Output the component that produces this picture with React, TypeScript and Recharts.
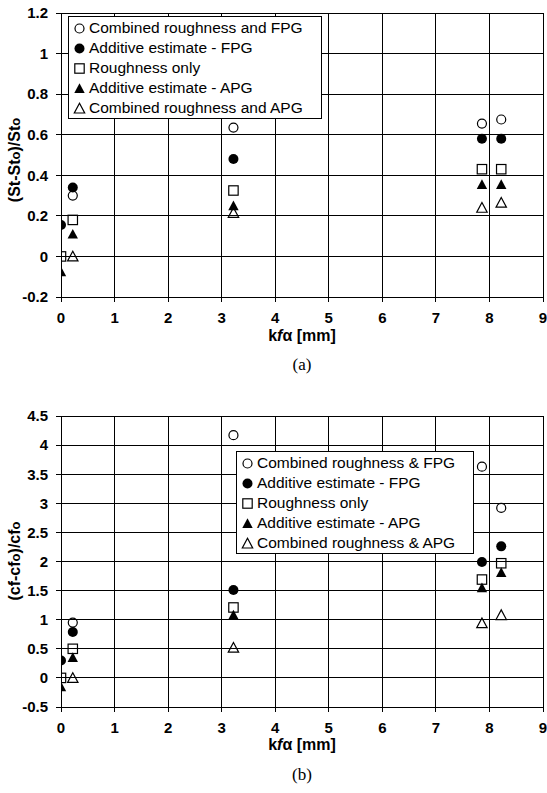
import React from 'react'
import { ScatterChart, Scatter, XAxis, YAxis, CartesianGrid, Legend } from 'recharts'

// kfα positions of the measured surfaces [mm]
const kfaPositions = [0, 0.22, 3.22, 7.86, 8.22]
const xTicks = [0, 1, 2, 3, 4, 5, 6, 7, 8, 9]

// (a) Stanton number augmentation
const stCombinedFpg = [null, 0.3, 0.635, 0.655, 0.675]
const stAdditiveFpg = [0.155, 0.34, 0.48, 0.58, 0.58]
const stRoughnessOnly = [0, 0.18, 0.325, 0.43, 0.43]
const stAdditiveApg = [-0.075, 0.11, 0.25, 0.355, 0.355]
const stCombinedApg = [null, 0, 0.215, 0.24, 0.265]
const stTicks = [-0.2, 0, 0.2, 0.4, 0.6, 0.8, 1, 1.2]

// (b) skin friction augmentation
const cfCombinedFpg = [null, 0.95, 4.17, 3.63, 2.92]
const cfAdditiveFpg = [0.3, 0.79, 1.51, 1.99, 2.26]
const cfRoughnessOnly = [0, 0.5, 1.21, 1.69, 1.97]
const cfAdditiveApg = [-0.15, 0.35, 1.08, 1.55, 1.81]
const cfCombinedApg = [null, 0, 0.52, 0.94, 1.08]
const cfTicks = [-0.5, 0, 0.5, 1, 1.5, 2, 2.5, 3, 3.5, 4, 4.5]

const namesA = [
  'Combined roughness and FPG',
  'Additive estimate - FPG',
  'Roughness only',
  'Additive estimate - APG',
  'Combined roughness and APG'
]
const namesB = [
  'Combined roughness & FPG',
  'Additive estimate - FPG',
  'Roughness only',
  'Additive estimate - APG',
  'Combined roughness & APG'
]
const markerKinds = ['openCircle', 'filledCircle', 'openSquare', 'filledTriangle', 'openTriangle']

const FONT = '"Liberation Sans", Arial, sans-serif'

function Marker({ kind, cx, cy }: { kind: string; cx: number; cy: number }) {
  const sw = 1.2
  if (kind === 'openCircle') return <circle cx={cx} cy={cy} r={4.5} fill="none" stroke="#000" strokeWidth={sw} />
  if (kind === 'filledCircle') return <circle cx={cx} cy={cy} r={5} fill="#000" />
  if (kind === 'openSquare') return <rect x={cx - 4.7} y={cy - 4.7} width={9.4} height={9.4} fill="none" stroke="#000" strokeWidth={sw} />
  const pts = `${cx - 5.2},${cy + 4.5} ${cx + 5.2},${cy + 4.5} ${cx},${cy - 5.2}`
  if (kind === 'filledTriangle') return <polygon points={pts} fill="#000" />
  return <polygon points={pts} fill="none" stroke="#000" strokeWidth={sw} />
}

function toPoints(values: (number | null)[]) {
  return kfaPositions
    .map((x, i) => ({ x, y: values[i] }))
    .filter((p) => p.y !== null)
}

function LegendBox({ names, width }: { names: string[]; width: number }) {
  return (
    <div
      style={{
        width,
        boxSizing: 'border-box',
        border: '1px solid #000',
        background: '#fff',
        padding: '1px 4px 0 4px',
        fontFamily: FONT,
        fontSize: 15.5,
        lineHeight: '20px',
        color: '#000'
      }}
    >
      {names.map((n, i) => (
        <div key={n} style={{ display: 'flex', alignItems: 'center', whiteSpace: 'nowrap' }}>
          <svg width={13} height={13} style={{ marginRight: 3 }}>
            <Marker kind={markerKinds[i]} cx={6.5} cy={6.5} />
          </svg>
          {n}
        </div>
      ))}
    </div>
  )
}

interface PanelProps {
  series: (number | null)[][]
  names: string[]
  yTicks: number[]
  top: number
  height: number
  marginTop: number
  legendPos: { left: number; top: number; width: number }
}

function Panel({ series, names, yTicks, top, height, marginTop, legendPos }: PanelProps) {
  const tickStyle = { fontSize: 15, fontWeight: 'bold' as const, fill: '#000', fontFamily: FONT }
  return (
    <div style={{ position: 'absolute', left: 0, top }}>
      <ScatterChart width={547} height={height} margin={{ top: marginTop, right: 4, bottom: 0, left: 0 }}>
        <CartesianGrid stroke="#000" strokeWidth={1} horizontalValues={yTicks} verticalValues={xTicks} />
        <XAxis
          type="number"
          dataKey="x"
          domain={[0, 9]}
          ticks={xTicks}
          height={30}
          tick={tickStyle}
          tickSize={5}
          tickMargin={10}
          axisLine={{ stroke: '#000' }}
          tickLine={{ stroke: '#000' }}
          allowDataOverflow
        />
        <YAxis
          type="number"
          dataKey="y"
          domain={[yTicks[0], yTicks[yTicks.length - 1]]}
          ticks={yTicks}
          width={61}
          tick={tickStyle}
          tickSize={5}
          tickMargin={8}
          axisLine={{ stroke: '#000' }}
          tickLine={{ stroke: '#000' }}
          allowDataOverflow
        />
        <Legend
          layout="vertical"
          align="center"
          verticalAlign="middle"
          wrapperStyle={{ left: legendPos.left, top: legendPos.top, width: 'auto' }}
          content={() => <LegendBox names={names} width={legendPos.width} />}
        />
        {series.map((vals, i) => (
          <Scatter
            key={names[i]}
            name={names[i]}
            data={toPoints(vals)}
            isAnimationActive={false}
            shape={(p: any) => <Marker kind={markerKinds[i]} cx={p.cx} cy={p.cy} />}
          />
        ))}
      </ScatterChart>
    </div>
  )
}

const titleStyle: React.CSSProperties = {
  position: 'absolute',
  fontFamily: FONT,
  fontWeight: 'bold',
  fontSize: 16,
  whiteSpace: 'nowrap',
  color: '#000'
}
const sub: React.CSSProperties = { fontSize: 13 }
const captionStyle: React.CSSProperties = {
  position: 'absolute',
  transform: 'translate(-50%, -50%)',
  fontFamily: '"Liberation Serif", serif',
  fontSize: 17
}

export default function App() {
  return (
    <div style={{ position: 'absolute', left: 0, top: 0, width: 547, height: 793, background: '#fff', overflow: 'hidden' }}>
      <style>{'.recharts-cartesian-grid line, .recharts-cartesian-axis line { shape-rendering: crispEdges; }'}</style>
      <Panel
        series={[stCombinedFpg, stAdditiveFpg, stRoughnessOnly, stAdditiveApg, stCombinedApg]}
        names={namesA}
        yTicks={stTicks}
        top={0}
        height={327}
        marginTop={13}
        legendPos={{ left: 68, top: 16, width: 254 }}
      />
      <div style={{ ...titleStyle, left: 15, top: 160, transform: 'translate(-50%, -50%) rotate(-90deg)' }}>
        (St-St<span style={sub}>o</span>)/St<span style={sub}>o</span>
      </div>
      <div style={{ ...titleStyle, left: 302, top: 336, transform: 'translate(-50%, -50%)' }}>
        k<i>f</i>α [mm]
      </div>
      <div style={{ ...captionStyle, left: 302, top: 365 }}>(a)</div>

      <Panel
        series={[cfCombinedFpg, cfAdditiveFpg, cfRoughnessOnly, cfAdditiveApg, cfCombinedApg]}
        names={namesB}
        yTicks={cfTicks}
        top={400}
        height={337}
        marginTop={16}
        legendPos={{ left: 236, top: 51, width: 238 }}
      />
      <div style={{ ...titleStyle, left: 15, top: 561, transform: 'translate(-50%, -50%) rotate(-90deg)' }}>
        (cf-cf<span style={sub}>o</span>)/cf<span style={sub}>o</span>
      </div>
      <div style={{ ...titleStyle, left: 302, top: 745, transform: 'translate(-50%, -50%)' }}>
        k<i>f</i>α [mm]
      </div>
      <div style={{ ...captionStyle, left: 302, top: 775 }}>(b)</div>
    </div>
  )
}
